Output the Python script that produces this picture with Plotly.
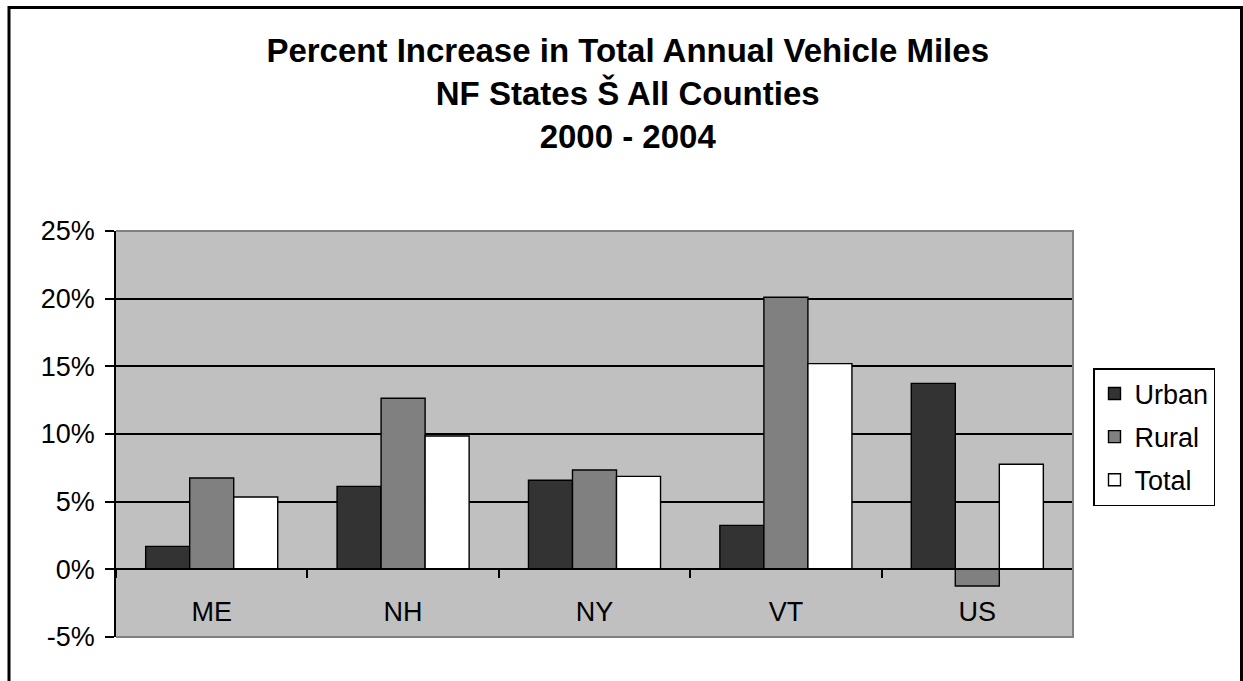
import plotly.graph_objects as go

# Percent increase in total annual vehicle miles, 2000-2004
states = ["ME", "NH", "NY", "VT", "US"]
urban = [1.70, 6.13, 6.58, 3.25, 13.74]
rural = [6.75, 12.64, 7.34, 20.10, -1.23]
total = [5.34, 9.85, 6.87, 15.20, 7.76]

y_ticks = [-5, 0, 5, 10, 15, 20, 25]
y_tick_text = [f"{v}%" for v in y_ticks]

W, H = 1243, 681
L, R, T, B = 116, 170, 231, 44
plot_w, plot_h = W - L - R, H - T - B

FONT = "Liberation Sans, Arial, sans-serif"
outline = dict(color="black", width=1.4)

fig = go.Figure()
for name, vals, color in [("Urban", urban, "#333333"),
                          ("Rural", rural, "#808080"),
                          ("Total", total, "#ffffff")]:
    fig.add_trace(go.Bar(
        name=name, x=states, y=vals, legendgroup=name,
        marker=dict(color=color, line=outline),
    ))


def px_x(px):
    return (px - L) / plot_w


def px_y(py):
    return (H - B - py) / plot_h


shapes = [
    # grey frame on top/right/bottom of the plotting area
    dict(type="path", xref="paper", yref="paper", layer="above",
         path="M0,0 L1,0 L1,1 L0,1",
         line=dict(color="#808080", width=2)),
    # outer chart border
    dict(type="rect", xref="paper", yref="paper", layer="above",
         x0=px_x(9), x1=px_x(1241.5), y0=px_y(684), y1=px_y(7.5),
         line=dict(color="black", width=3), fillcolor="rgba(0,0,0,0)"),
]

fig.update_layout(
    width=W, height=H,
    margin=dict(l=L, r=R, t=T, b=B, autoexpand=False),
    paper_bgcolor="white",
    plot_bgcolor="#c0c0c0",
    barmode="group", bargap=0.31, bargroupgap=0,
    font=dict(family=FONT, size=27, color="black"),
    title=dict(
        text="<b>Percent Increase in Total Annual Vehicle Miles<br>"
             "NF States Š All Counties<br>2000 - 2004</b>",
        x=0.505, xanchor="center", xref="container",
        y=1 - 62 / H, yanchor="top", yref="container",
        font=dict(family=FONT, size=33, color="black"),
    ),
    xaxis=dict(
        anchor="free", position=1 / 6,
        showline=True, linecolor="black", linewidth=1.5,
        ticks="outside", tickson="boundaries", ticklen=8,
        tickcolor="black", tickwidth=1.5,
        ticklabelstandoff=19,
        showgrid=False, zeroline=False,
        tickfont=dict(size=27),
    ),
    yaxis=dict(
        range=[-5, 25], tickvals=y_ticks, ticktext=y_tick_text,
        showline=True, linecolor="black", linewidth=1.5,
        ticks="outside", ticklen=9, tickcolor="black", tickwidth=1.5,
        ticklabelstandoff=5,
        showgrid=True, gridcolor="black", gridwidth=1.5,
        zeroline=False,
        tickfont=dict(size=27),
    ),
    legend=dict(
        x=px_x(1093), xanchor="left", y=px_y(368), yanchor="top",
        bgcolor="white", bordercolor="black", borderwidth=1.5,
        font=dict(size=27), tracegroupgap=5,
    ),
    shapes=shapes,
)

fig.write_html("out.html")
